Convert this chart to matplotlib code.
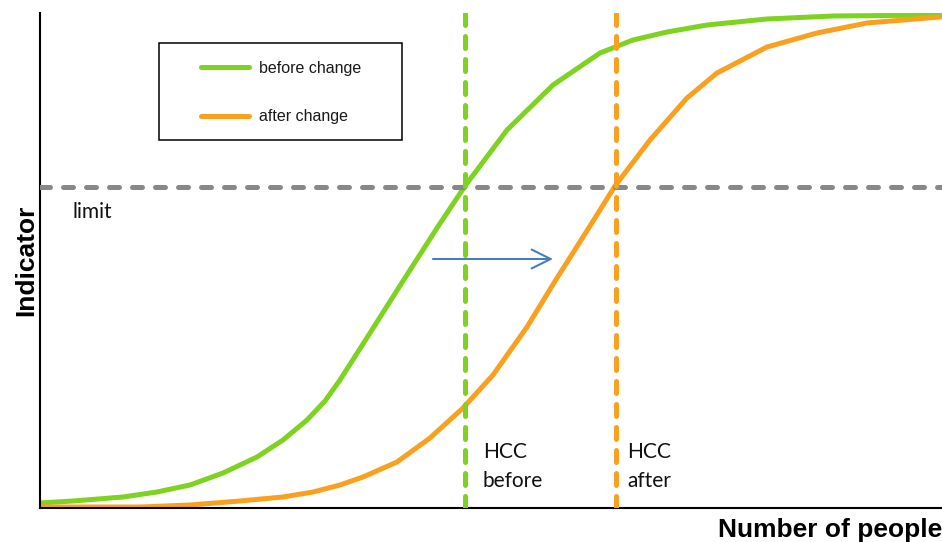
import matplotlib
matplotlib.use("Agg")
import matplotlib.pyplot as plt
from matplotlib.lines import Line2D
from matplotlib.patches import Rectangle

# ---- data (people on x, indicator on y) ----
before_x = [0, 33, 83, 117, 150, 183, 217, 243, 267, 285, 300, 330, 363, 397, 425, 467, 513, 560, 593, 627, 667, 727, 793, 900]
before_y = [5, 7, 11, 16, 23, 35, 51, 68, 88, 107, 128, 175, 227, 280, 322, 378, 423, 455, 468, 476, 483, 489, 492, 493]
after_x = [0, 100, 150, 200, 243, 273, 300, 323, 357, 390, 423, 453, 487, 517, 550, 575, 610, 647, 677, 727, 777, 827, 900]
after_y = [1, 1, 3, 7, 11, 16, 23, 31, 46, 70, 100, 133, 181, 230, 282, 322, 368, 410, 435, 461, 475, 485, 491]
limit_value = 321.5
hcc_before = 425
hcc_after = 576
arrow_from = (393, 249)
arrow_to = (513, 249)
labels = ["before change", "after change"]

GREEN = "#7ED321"
ORANGE = "#F9A11F"
GRAY = "#888888"
BLUE = "#4A7EBB"

W, H = 942, 542
fig = plt.figure(figsize=(W / 100, H / 100), dpi=100)
ax = fig.add_axes([40 / W, (H - 508) / H, 902 / W, (508 - 13) / H])
ax.set_xlim(0, 902)
ax.set_ylim(0, 495)

ax.plot(before_x, before_y, color=GREEN, lw=3.6, solid_capstyle="round",
        solid_joinstyle="round", zorder=2)
ax.plot(after_x, after_y, color=ORANGE, lw=3.6, solid_capstyle="round",
        solid_joinstyle="round", zorder=2)

ax.axhline(limit_value, color=GRAY, lw=3.6, dashes=(2.0, 2.6), dash_capstyle="round", zorder=3)
ax.axvline(hcc_before, color=GREEN, lw=3.6, dashes=(2.4, 2.2), dash_capstyle="round", zorder=3)
ax.axvline(hcc_after, color=ORANGE, lw=3.6, dashes=(2.4, 2.2), dash_capstyle="round", zorder=3)

ax.annotate("", xy=arrow_to, xytext=arrow_from,
            arrowprops=dict(arrowstyle="->,head_length=1.37,head_width=0.68",
                            color=BLUE, lw=1.5, shrinkA=0, shrinkB=0), zorder=4)

txt_font = dict(family="Lato", size=15, color="#111111")
ax.text(32, 296, "limit", va="center", ha="left", **txt_font)
ax.text(hcc_before + 18, 508 - 442, "HCC\nbefore", va="top", ha="left", linespacing=1.58, **txt_font)
ax.text(hcc_after + 11, 508 - 442, "HCC\nafter", va="top", ha="left", linespacing=1.58, **txt_font)

for s in ["top", "right"]:
    ax.spines[s].set_visible(False)
for s in ["left", "bottom"]:
    ax.spines[s].set_linewidth(1.5)
    ax.spines[s].set_color("black")
ax.set_xticks([])
ax.set_yticks([])

lab_font = dict(family="Liberation Sans", size=19, weight="bold")
ax.set_ylabel("Indicator", labelpad=1, **lab_font)
ax.set_xlabel("Number of people", loc="right", labelpad=7, **lab_font)

# legend frame
ax.add_patch(Rectangle((159 / W, 1 - 140 / H), 243 / W, 97 / H, transform=fig.transFigure,
                       facecolor="white", edgecolor="black", lw=1.1, clip_on=False, zorder=5))
handles = [Line2D([], [], color=GREEN, lw=3.6, solid_capstyle="round"),
           Line2D([], [], color=ORANGE, lw=3.6, solid_capstyle="round")]
leg = ax.legend(handles, labels, frameon=False, loc="upper left",
                bbox_to_anchor=(200.5 / W, 1 - 60.5 / H), bbox_transform=fig.transFigure,
                borderpad=0, borderaxespad=0, handlelength=3.06, handletextpad=0.6,
                labelspacing=2.12, prop=dict(family="Liberation Sans", size=11.5))
leg.set_zorder(6)
for t in leg.get_texts():
    t.set_color("#1a1a1a")

fig.savefig("out.png", dpi=100)
